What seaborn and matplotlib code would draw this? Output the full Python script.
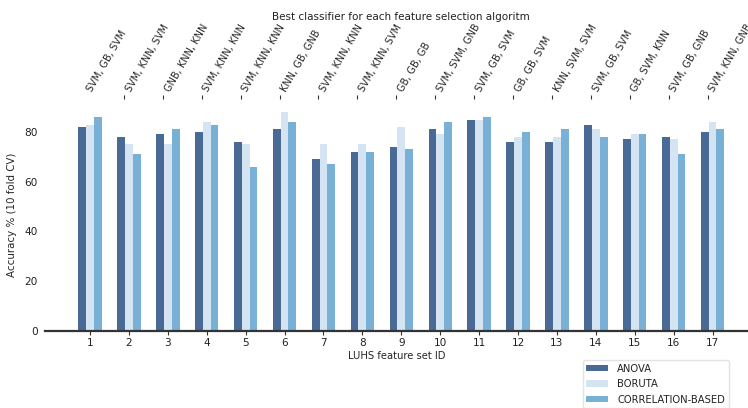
import matplotlib
matplotlib.use("Agg")
import matplotlib.pyplot as plt
import seaborn as sns
import pandas as pd

# Feature set IDs and the accuracy of each feature selection method
set_ids = [str(i) for i in range(1, 18)]
anova = [82, 78, 79, 80, 76, 81, 69, 72, 74, 81, 85, 76, 76, 83, 77, 78, 80]
boruta = [83, 75, 75, 84, 75, 88, 75, 75, 82, 79, 85, 78, 78, 81, 79, 77, 84]
correlation = [86, 71, 81, 83, 66, 84, 67, 72, 73, 84, 86, 80, 81, 78, 79, 71, 81]
methods = ["ANOVA", "BORUTA", "CORRELATION-BASED"]

# Best classifier per method for each feature set
best_classifiers = [
    "SVM, GB, SVM", "SVM, KNN, SVM", "GNB, KNN, KNN", "SVM, KNN, KNN",
    "SVM, KNN, KNN", "KNN, GB, GNB", "SVM, KNN, KNN", "SVM, KNN, SVM",
    "GB, GB, GB", "SVM, SVM, GNB", "SVM, GB, SVM", "GB, GB, SVM",
    "KNN, SVM, SVM", "SVM, GB, SVM", "GB, SVM, KNN", "SVM, GB, GNB",
    "SVM, KNN, GNB",
]

df = pd.DataFrame({
    "id": set_ids * 3,
    "acc": anova + boruta + correlation,
    "method": [m for m in methods for _ in set_ids],
})

sns.set_style("white")
plt.rcParams["font.family"] = ["DejaVu Sans"]
plt.rcParams["text.color"] = "#222222"

palette = ["#4a6a96", "#d4e4f2", "#79b1d6"]

fig = plt.figure(figsize=(7.48, 4.08), dpi=100)
ax = fig.add_axes([0.06, 0.189, 0.941, 0.568])

sns.barplot(data=df, x="id", y="acc", hue="method", palette=palette,
            width=0.6, saturation=1, ax=ax, errorbar=None, linewidth=0)

ax.set_xlim(-1.16, 16.93)
ax.set_ylim(0, 93.2)
ax.set_yticks([0, 20, 40, 60, 80])
for s in ["top", "right", "left"]:
    ax.spines[s].set_visible(False)
ax.spines["bottom"].set_color("#333333")
ax.spines["bottom"].set_linewidth(1.6)
ax.tick_params(axis="y", length=3, width=0.8, color="#333333", labelsize=7.6,
               labelcolor="#222222", pad=2)
ax.tick_params(axis="x", length=3, width=0.8, color="#333333", labelsize=7.6,
               labelcolor="#222222", pad=2)
ax.set_xlabel("LUHS feature set ID", fontsize=7.2, labelpad=2)
ax.set_ylabel("Accuracy % (10 fold CV)", fontsize=7.4, labelpad=5)

# Classifier names along the top
ax2 = ax.twiny()
ax2.set_xlim(ax.get_xlim())
ax2.set_xticks([i - 0.13 for i in range(len(set_ids))])
ax2.set_xticklabels(best_classifiers, rotation=60, ha="left", fontsize=7.0)
for s in ["top", "right", "left", "bottom"]:
    ax2.spines[s].set_visible(False)
ax2.tick_params(axis="x", length=3, width=0.8, color="#333333", pad=1)
ax2.xaxis.get_major_ticks()[0].tick2line.set_visible(False)

fig.text(0.536, 0.958, "Best classifier for each feature selection algoritm",
         ha="center", va="center", fontsize=7.5)

handles, labels = ax.get_legend_handles_labels()
ax.get_legend().remove()
fig.legend(handles, labels, loc="upper left", bbox_to_anchor=(0.779, 0.1176),
           bbox_transform=fig.transFigure, fontsize=7.2, frameon=True,
           edgecolor="#dddddd", handlelength=2.2, handleheight=0.6,
           borderpad=0.35, borderaxespad=0, labelspacing=0.55,
           handletextpad=0.9)

fig.savefig("out.png", dpi=100)
